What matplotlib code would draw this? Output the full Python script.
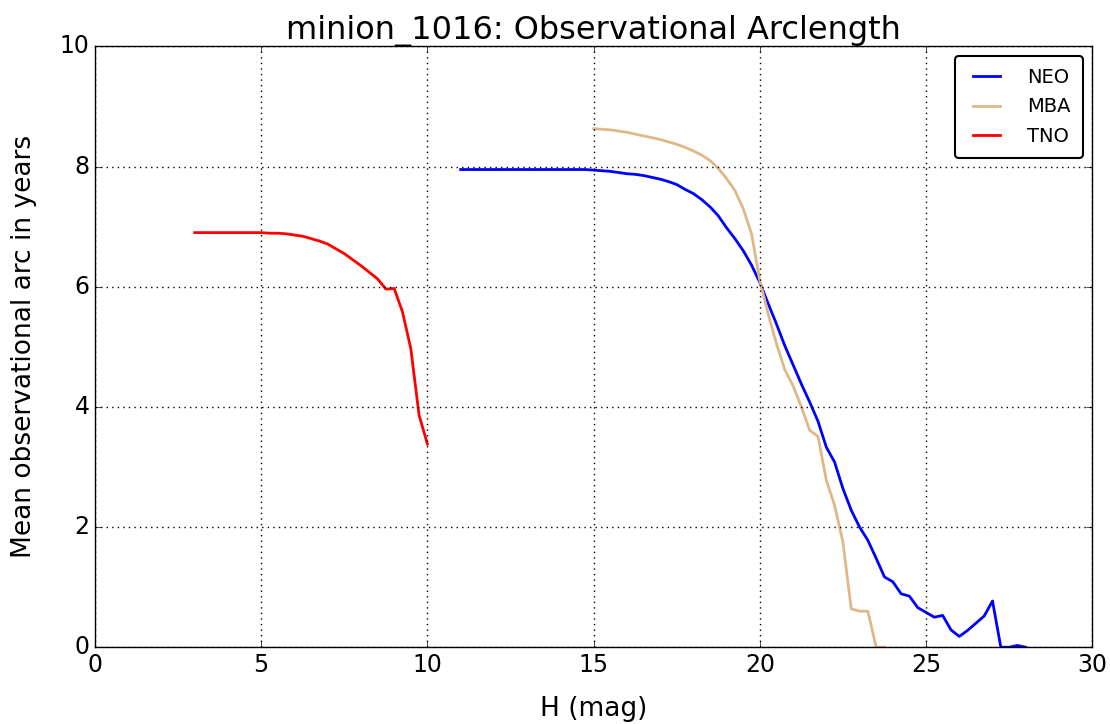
import matplotlib
matplotlib.use("Agg")
import matplotlib.pyplot as plt
import numpy as np

# H magnitude grids (0.25 mag bins)
h_neo = np.arange(11.0, 28.01, 0.25)
h_mba = np.arange(15.0, 23.76, 0.25)
h_tno = np.arange(3.0, 10.01, 0.25)

neo_arc = [7.95, 7.95, 7.95, 7.95, 7.95, 7.95, 7.95, 7.95,
           7.95, 7.95, 7.95, 7.95, 7.95, 7.95, 7.95, 7.95,
           7.94, 7.93, 7.92, 7.90, 7.88, 7.87, 7.85, 7.82,
           7.79, 7.75, 7.70, 7.62, 7.55, 7.45, 7.33, 7.18,
           6.98, 6.80, 6.60, 6.36, 6.07, 5.72, 5.38, 5.02,
           4.70, 4.38, 4.08, 3.76, 3.33, 3.08, 2.64, 2.28,
           2.00, 1.78, 1.48, 1.17, 1.09, 0.89, 0.85, 0.66,
           0.58, 0.50, 0.53, 0.29, 0.18, 0.28, 0.40, 0.52,
           0.77, 0.00, 0.00, 0.03, 0.00]
mba_arc = [8.63, 8.62, 8.61, 8.59, 8.57, 8.54, 8.51, 8.48,
           8.45, 8.41, 8.37, 8.32, 8.26, 8.19, 8.10, 7.97,
           7.80, 7.60, 7.30, 6.88, 6.10, 5.55, 5.05, 4.62,
           4.35, 4.00, 3.61, 3.51, 2.78, 2.36, 1.75, 0.64,
           0.60, 0.60, 0.00, 0.00]
tno_arc = [6.90, 6.90, 6.90, 6.90, 6.90, 6.90, 6.90, 6.90,
           6.90, 6.89, 6.89, 6.88, 6.86, 6.84, 6.80, 6.76,
           6.71, 6.63, 6.55, 6.45, 6.35, 6.24, 6.13, 5.96,
           5.97, 5.58, 4.97, 3.86, 3.38]

plt.style.use("classic")
fig = plt.figure(figsize=(11.1, 7.24), dpi=100)
ax = fig.add_axes([0.0856, 0.106, 0.8984, 0.830])

ax.plot(h_neo, neo_arc, color="b", lw=2, label="NEO")
ax.plot(h_mba, mba_arc, color="burlywood", lw=2, label="MBA")
ax.plot(h_tno, tno_arc, color="r", lw=2, label="TNO")

ax.set_xlim(0, 30)
ax.set_ylim(0, 10)
ax.grid(True, linestyle=":", color="k", lw=1.0)
ax.tick_params(labelsize=17)
ax.set_xlabel("H (mag)", fontsize=19, labelpad=14)
ax.set_ylabel("Mean observational arc in years", fontsize=19, labelpad=16)
ax.set_title("minion_1016: Observational Arclength", fontsize=23)
leg = ax.legend(loc="upper right", fontsize=14, fancybox=True,
                handletextpad=1.1, borderpad=0.6, labelspacing=0.55)
leg.get_frame().set_linewidth(1.5)

fig.savefig("out.png", dpi=100)
